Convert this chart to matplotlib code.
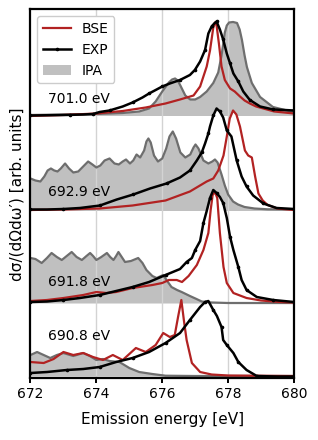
import matplotlib
matplotlib.use("Agg")
import matplotlib.pyplot as plt
import numpy as np

# ---------------- data ----------------
labels = ["701.0 eV", "692.9 eV", "691.8 eV", "690.8 eV"]
offsets = [2.605, 1.655, 0.73, 0.0]

# 701.0 eV
e1_exp = [672.0, 672.6, 673.2, 673.6, 673.9, 674.1, 674.4, 674.8, 675.1, 675.4, 675.6, 675.83, 676.0,
          676.23, 676.54, 676.84, 676.99, 677.15, 677.3, 677.4, 677.5, 677.58, 677.65, 677.75, 677.85,
          677.96, 678.06, 678.16, 678.31, 678.46, 678.66, 678.97, 679.37, 679.7, 680.0]
h1_exp = [0.0, 0.003, 0.006, 0.01, 0.015, 0.035, 0.05, 0.09, 0.13, 0.18, 0.22, 0.26, 0.29,
          0.32, 0.355, 0.405, 0.455, 0.54, 0.655, 0.82, 0.89, 0.92, 0.94, 0.86, 0.76,
          0.62, 0.52, 0.42, 0.34, 0.24, 0.155, 0.09, 0.06, 0.055, 0.05]
e1_bse = [672.0, 673.0, 674.0, 674.8, 675.5, 676.1, 676.54, 676.95, 677.15, 677.35, 677.45, 677.55, 677.6,
          677.65, 677.72, 677.8, 677.9, 678.06, 678.2, 678.36, 678.5, 678.66, 678.85, 679.07, 679.4, 680.0]
h1_bse = [-0.005, 0.005, 0.02, 0.045, 0.08, 0.12, 0.16, 0.2, 0.29, 0.49, 0.65, 0.88, 0.93,
          0.9, 0.72, 0.49, 0.355, 0.27, 0.24, 0.19, 0.15, 0.12, 0.09, 0.07, 0.04, 0.02]
e1_ipa = [672.0, 673.0, 674.0, 674.8, 675.3, 675.6, 675.8, 676.0, 676.2, 676.3, 676.39, 676.47, 676.55,
          676.7, 676.85, 677.0, 677.15, 677.35, 677.55, 677.7, 677.8, 677.9, 677.96, 678.03, 678.15,
          678.27, 678.35, 678.42, 678.5, 678.57, 678.72, 678.97, 679.36, 679.97, 680.0]
h1_ipa = [0.005, 0.01, 0.015, 0.025, 0.04, 0.07, 0.14, 0.24, 0.33, 0.36, 0.37, 0.35, 0.3,
          0.2, 0.16, 0.16, 0.185, 0.24, 0.325, 0.43, 0.6, 0.83, 0.9, 0.93, 0.935,
          0.925, 0.86, 0.755, 0.6, 0.485, 0.325, 0.185, 0.085, 0.035, 0.035]

# 692.9 eV
e2_exp = [672.0, 672.5, 673.0, 673.5, 674.11, 674.62, 675.12, 675.63, 676.13, 676.54, 676.84, 677.05,
          677.2, 677.3, 677.4, 677.45, 677.55, 677.65, 677.75, 677.85, 677.96, 678.1, 678.26, 678.41,
          678.56, 678.76, 679.07, 679.47, 680.0]
h2_exp = [0.01, 0.01, 0.015, 0.025, 0.05, 0.11, 0.16, 0.22, 0.27, 0.33, 0.40, 0.50,
          0.58, 0.67, 0.77, 0.84, 0.95, 1.02, 0.99, 0.93, 0.80, 0.74, 0.50, 0.34,
          0.24, 0.15, 0.07, 0.025, 0.015]
e2_bse = [672.0, 673.0, 674.1, 675.1, 676.1, 676.84, 677.35, 677.55, 677.7, 677.86, 677.96, 678.05,
          678.15, 678.25, 678.36, 678.51, 678.61, 678.72, 678.82, 678.92, 679.05, 679.2, 679.5, 680.0]
h2_bse = [0.005, 0.01, 0.02, 0.05, 0.10, 0.19, 0.29, 0.32, 0.40, 0.55, 0.74, 0.92,
          1.0, 0.96, 0.84, 0.60, 0.55, 0.53, 0.34, 0.17, 0.10, 0.055, 0.02, 0.005]
e2_ipa = [672.0, 672.15, 672.3, 672.42, 672.52, 672.62, 672.72, 672.82, 672.92, 673.05, 673.17, 673.3,
          673.45, 673.6, 673.75, 673.88, 674.0, 674.12, 674.25, 674.4, 674.55, 674.68, 674.8, 674.9,
          675.02, 675.12, 675.22, 675.33, 675.45, 675.52, 675.58, 675.65, 675.75, 675.87, 676.0,
          676.12, 676.22, 676.32, 676.42, 676.55, 676.7, 676.85, 676.95, 677.01, 677.1, 677.25,
          677.4, 677.52, 677.6, 677.68, 677.8, 677.9, 678.0, 678.15, 678.3, 678.5, 678.8, 679.2, 680.0]
h2_ipa = [0.32, 0.30, 0.29, 0.34, 0.40, 0.42, 0.40, 0.39, 0.42, 0.47, 0.42, 0.38,
          0.39, 0.44, 0.49, 0.46, 0.43, 0.45, 0.50, 0.52, 0.47, 0.46, 0.49, 0.51,
          0.47, 0.50, 0.56, 0.53, 0.60, 0.69, 0.72, 0.68, 0.55, 0.49, 0.52,
          0.62, 0.74, 0.79, 0.72, 0.58, 0.53, 0.56, 0.63, 0.66, 0.62, 0.50,
          0.47, 0.49, 0.51, 0.48, 0.36, 0.25, 0.16, 0.09, 0.06, 0.035, 0.02, 0.012, 0.01]

# 691.8 eV
e3_exp = [672.0, 672.5, 673.0, 673.5, 674.1, 674.6, 675.1, 675.6, 676.1, 676.54, 676.74, 676.9, 677.0,
          677.15, 677.25, 677.35, 677.45, 677.55, 677.65, 677.75, 677.85, 677.96, 678.06, 678.16,
          678.31, 678.41, 678.56, 678.87, 679.37, 680.0]
h3_exp = [0.01, 0.015, 0.03, 0.05, 0.08, 0.12, 0.16, 0.21, 0.28, 0.34, 0.41, 0.45, 0.53,
          0.62, 0.80, 0.92, 1.05, 1.13, 1.10, 1.06, 1.0, 0.85, 0.66, 0.53,
          0.36, 0.23, 0.13, 0.06, 0.03, 0.01]
e3_bse = [672.0, 672.5, 673.0, 673.6, 674.0, 674.3, 674.6, 675.1, 675.7, 676.0, 676.2, 676.44, 676.6,
          676.8, 677.05, 677.25, 677.4, 677.47, 677.53, 677.6, 677.67, 677.75, 677.86, 677.96, 678.16,
          678.56, 679.0, 679.57, 680.0]
h3_bse = [0.02, 0.03, 0.05, 0.08, 0.11, 0.10, 0.11, 0.15, 0.18, 0.20, 0.23, 0.23, 0.21,
          0.27, 0.38, 0.53, 0.70, 0.93, 1.08, 1.11, 1.05, 0.70, 0.36, 0.20, 0.10,
          0.05, 0.025, 0.01, 0.005]
e3_ipa = [672.0, 672.15, 672.34, 672.5, 672.64, 672.8, 672.95, 673.1, 673.25, 673.4, 673.56, 673.7,
          673.81, 673.9, 674.0, 674.15, 674.32, 674.42, 674.52, 674.6, 674.67, 674.77, 674.87, 675.05,
          675.27, 675.4, 675.52, 675.7, 675.83, 676.03, 676.15, 676.28, 676.45, 676.59, 676.84, 677.04,
          677.2, 677.5, 678.0, 680.0]
h3_ipa = [0.45, 0.44, 0.40, 0.45, 0.50, 0.46, 0.43, 0.47, 0.51, 0.46, 0.43, 0.47,
          0.50, 0.47, 0.43, 0.46, 0.50, 0.46, 0.43, 0.47, 0.51, 0.46, 0.41, 0.42,
          0.45, 0.40, 0.33, 0.27, 0.25, 0.28, 0.22, 0.16, 0.13, 0.11, 0.07, 0.04,
          0.015, 0.005, 0.0, 0.0]

# 690.8 eV
e4_exp = [672.0, 672.5, 673.1, 673.6, 674.1, 674.6, 675.1, 675.6, 676.1, 676.54, 676.84, 677.15, 677.3,
          677.4, 677.55, 677.66, 677.8, 677.85, 677.96, 678.16, 678.31, 678.56, 678.87, 679.5, 680.0]
h4_exp = [0.03, 0.04, 0.06, 0.07, 0.09, 0.14, 0.18, 0.24, 0.33, 0.43, 0.56, 0.69, 0.74,
          0.75, 0.66, 0.60, 0.49, 0.36, 0.31, 0.23, 0.14, 0.06, 0.0, -0.005, -0.005]
e4_bse = [672.0, 672.4, 672.7, 673.0, 673.3, 673.6, 673.9, 674.2, 674.5, 674.8, 675.2, 675.5, 675.8,
          676.03, 676.23, 676.38, 676.48, 676.58, 676.66, 676.74, 676.9, 677.15, 677.5, 678.0, 680.0]
h4_bse = [0.14, 0.13, 0.17, 0.24, 0.21, 0.23, 0.19, 0.16, 0.21, 0.16, 0.28, 0.24, 0.31,
          0.43, 0.39, 0.41, 0.59, 0.76, 0.55, 0.36, 0.13, 0.04, 0.015, 0.005, 0.0]
e4_ipa = [672.0, 672.2, 672.4, 672.6, 672.8, 673.0, 673.3, 673.6, 673.8, 674.0, 674.2, 674.4, 674.7,
          675.0, 675.3, 675.7, 676.1, 677.0, 680.0]
h4_ipa = [0.21, 0.24, 0.21, 0.18, 0.21, 0.23, 0.20, 0.23, 0.20, 0.16, 0.17, 0.15, 0.14,
          0.08, 0.04, 0.02, 0.003, 0.0, 0.0]

xticks = [672, 674, 676, 678, 680]

# ---------------- plot ----------------
RED = "#b22222"
LINEGRAY = "#6e6e6e"
FILLGRAY = "#c0c0c0"

fig = plt.figure(figsize=(3.18, 4.4), dpi=100)
ax = fig.add_axes([0.0959, 0.1402, 0.8286, 0.8387])

panels = [
    (e1_exp, h1_exp, e1_bse, h1_bse, e1_ipa, h1_ipa),
    (e2_exp, h2_exp, e2_bse, h2_bse, e2_ipa, h2_ipa),
    (e3_exp, h3_exp, e3_bse, h3_bse, e3_ipa, h3_ipa),
    (e4_exp, h4_exp, e4_bse, h4_bse, e4_ipa, h4_ipa),
]

for i, (ee, he, eb, hb, ei, hi) in enumerate(panels):
    off = offsets[i]
    ee = np.asarray(ee); he = np.asarray(he)
    eb = np.asarray(eb); hb = np.asarray(hb)
    ei = np.asarray(ei); hi = np.asarray(hi)
    # white backing under the spectra (hides the panel above)
    grid_x = np.union1d(ee, eb)
    top = np.maximum(np.interp(grid_x, ee, he), np.interp(grid_x, eb, hb))
    top = np.maximum(top, 0)
    ax.fill_between(grid_x, off, off + top, color="white", lw=0, zorder=1.0 + 0.1 * i)
    ax.fill_between(ei, off, off + hi, color=FILLGRAY, lw=0, zorder=1.05 + 0.1 * i,
                    label="IPA" if i == 0 else None)
    ax.plot(ei, off + hi, color=LINEGRAY, lw=1.6, zorder=2)
    ax.plot(eb, off + hb, color=RED, lw=1.6, zorder=2.1, label="BSE" if i == 0 else None)
    ax.plot(ee, off + he, color="black", lw=1.8, marker="o", ms=1.6, markevery=2, zorder=2.2,
            label="EXP" if i == 0 else None)

text_y = [2.77, 1.843, 0.943, 0.403]
for lab, ty in zip(labels, text_y):
    ax.text(672.52, ty, lab, fontsize=10, va="center", ha="left", zorder=5)

ax.set_xlim(672, 680)
ax.set_ylim(-0.023, 3.667)
ax.set_xticks(xticks)
ax.set_yticks([])
for x in [674, 676, 678]:
    ax.axvline(x, color="#d3d3d3", lw=1.0, zorder=1.5)
for sp in ax.spines.values():
    sp.set_linewidth(1.6)
ax.tick_params(axis="x", direction="out", length=3.5, width=1.4, labelsize=10, pad=3)
ax.set_xlabel("Emission energy [eV]", fontsize=11, labelpad=8)
ax.set_ylabel("dσ/(dΩdω′) [arb. units]", fontsize=11, labelpad=4)

h, l = ax.get_legend_handles_labels()
order = [l.index("BSE"), l.index("EXP"), l.index("IPA")]
ax.legend([h[k] for k in order], [l[k] for k in order], loc="upper left", fontsize=10, framealpha=1.0)

fig.savefig("out.png", dpi=100)
